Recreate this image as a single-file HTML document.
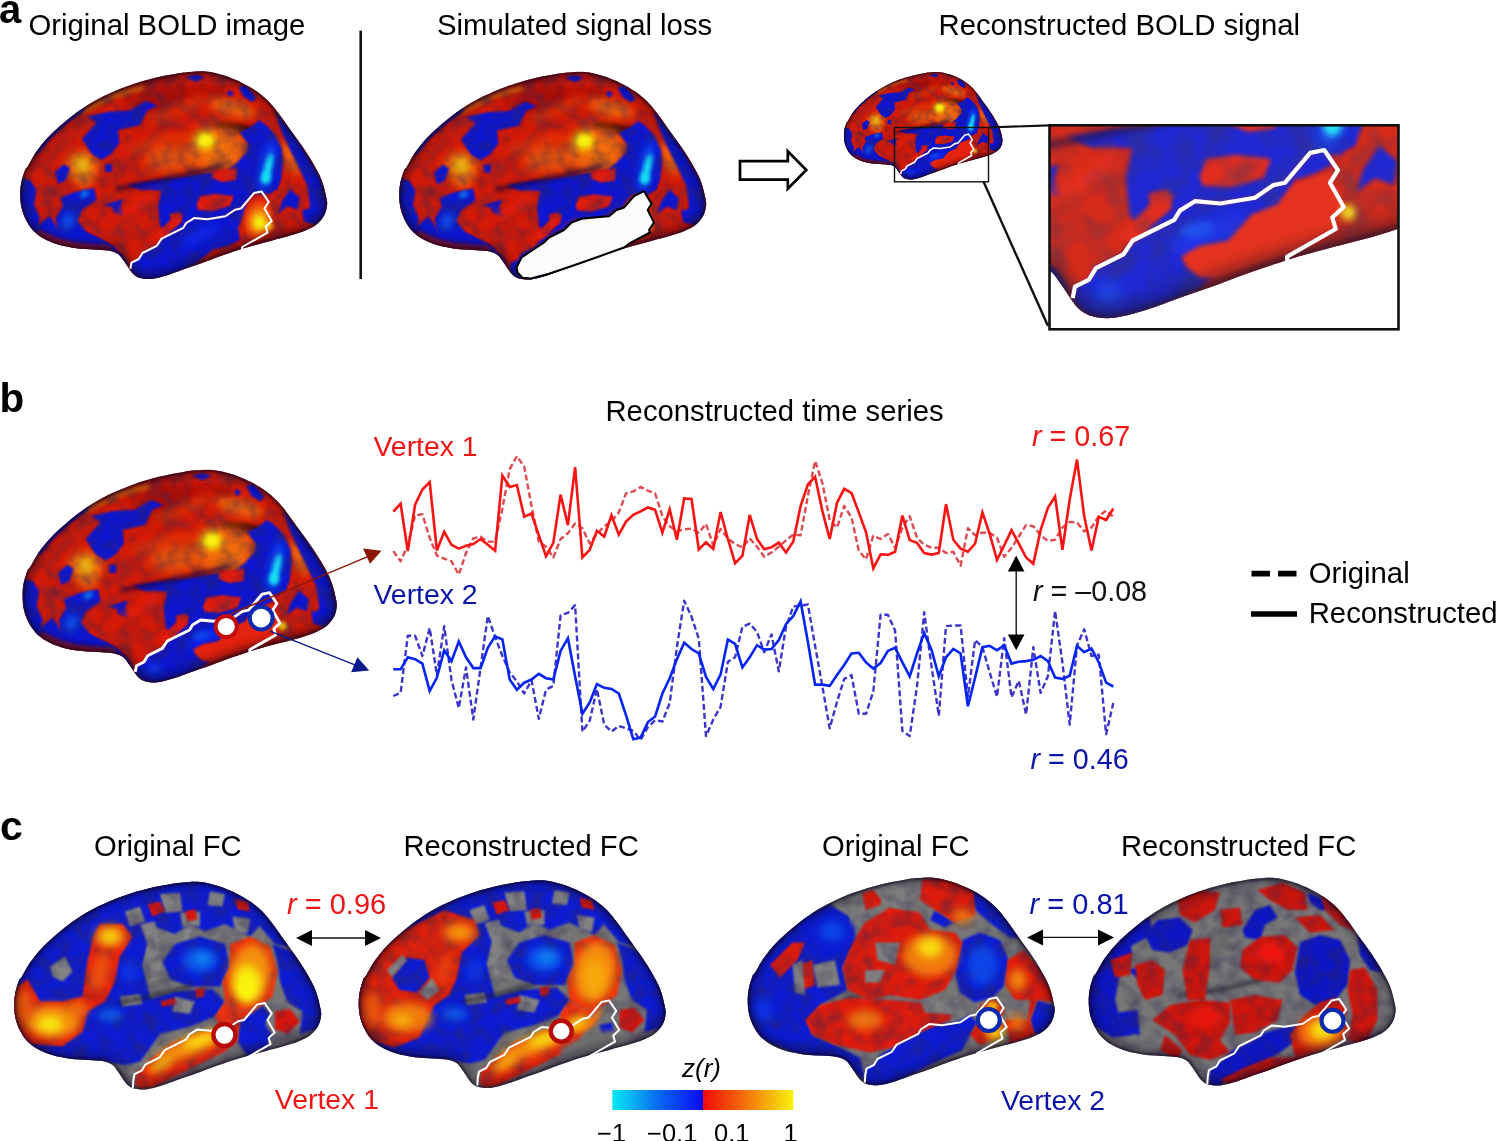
<!DOCTYPE html>
<html><head><meta charset="utf-8"><title>Figure</title>
<style>html,body{margin:0;padding:0;background:#fff}svg{display:block}text{font-family:"Liberation Sans",Arial,Helvetica,sans-serif}</style></head><body>
<svg width="1496" height="1141" viewBox="0 0 1496 1141">
<defs>
<clipPath id="bc"><path d="M20.2,194.0C20.2,189.8 20.6,186.0 21.4,182.0C22.2,178.0 23.9,172.7 25.0,170.0C26.1,167.3 26.1,169.0 28.0,165.9C29.9,162.8 33.1,156.3 36.5,151.5C39.9,146.7 43.9,141.8 48.5,137.0C53.1,132.2 58.6,127.3 64.2,122.6C69.8,117.9 75.6,113.1 82.2,108.7C88.8,104.3 96.3,99.9 103.9,96.1C111.5,92.3 119.5,88.9 127.9,85.9C136.3,82.9 146.0,80.1 154.4,78.0C162.8,75.9 172.6,74.2 178.5,73.2C184.4,72.2 185.4,72.2 190.0,71.9C194.6,71.6 200.4,71.0 206.1,71.6C211.8,72.2 218.2,73.7 224.2,75.6C230.2,77.5 236.8,80.3 242.2,82.9C247.6,85.5 252.2,88.2 256.6,91.3C261.0,94.4 265.1,97.9 268.7,101.5C272.3,105.1 274.7,108.3 278.3,113.0C281.9,117.7 286.3,124.2 290.3,129.8C294.3,135.4 298.6,141.0 302.4,146.6C306.2,152.2 310.0,157.9 313.2,163.5C316.4,169.1 319.4,174.3 321.6,180.0C323.8,185.7 325.5,193.3 326.4,197.7C327.3,202.0 327.4,203.1 327.0,206.1C326.6,209.1 325.7,212.7 324.0,215.7C322.3,218.7 319.8,221.8 316.8,224.2C313.8,226.6 310.4,228.3 306.0,230.2C301.6,232.1 295.9,233.9 290.3,235.6C284.7,237.3 278.3,238.8 272.3,240.4C266.3,242.0 259.2,243.8 254.2,245.2C249.2,246.6 247.2,247.2 242.2,248.8C237.2,250.4 230.2,252.7 224.2,254.8C218.2,256.9 212.1,259.3 206.1,261.5C200.1,263.7 194.3,265.6 188.0,267.8C181.7,270.1 174.0,273.1 168.0,275.0C162.0,276.9 156.5,278.3 152.0,278.9C147.5,279.4 144.2,279.0 141.2,278.3C138.2,277.6 136.0,276.3 134.0,274.7C132.0,273.1 130.7,270.9 129.1,268.7C127.5,266.5 126.1,263.9 124.3,261.5C122.5,259.1 120.9,256.0 118.3,254.2C115.7,252.4 112.7,251.4 108.7,250.6C104.7,249.8 99.6,249.8 94.2,249.4C88.8,249.0 82.2,249.0 76.2,248.2C70.2,247.4 63.5,246.2 58.1,244.6C52.7,243.0 47.9,241.0 43.7,238.6C39.5,236.2 35.9,233.4 32.9,230.2C29.9,227.0 27.5,223.1 25.6,219.3C23.7,215.5 22.3,211.5 21.4,207.3C20.5,203.1 20.2,198.2 20.2,194.0Z"/></clipPath>
<path id="bo" d="M20.2,194.0C20.2,189.8 20.6,186.0 21.4,182.0C22.2,178.0 23.9,172.7 25.0,170.0C26.1,167.3 26.1,169.0 28.0,165.9C29.9,162.8 33.1,156.3 36.5,151.5C39.9,146.7 43.9,141.8 48.5,137.0C53.1,132.2 58.6,127.3 64.2,122.6C69.8,117.9 75.6,113.1 82.2,108.7C88.8,104.3 96.3,99.9 103.9,96.1C111.5,92.3 119.5,88.9 127.9,85.9C136.3,82.9 146.0,80.1 154.4,78.0C162.8,75.9 172.6,74.2 178.5,73.2C184.4,72.2 185.4,72.2 190.0,71.9C194.6,71.6 200.4,71.0 206.1,71.6C211.8,72.2 218.2,73.7 224.2,75.6C230.2,77.5 236.8,80.3 242.2,82.9C247.6,85.5 252.2,88.2 256.6,91.3C261.0,94.4 265.1,97.9 268.7,101.5C272.3,105.1 274.7,108.3 278.3,113.0C281.9,117.7 286.3,124.2 290.3,129.8C294.3,135.4 298.6,141.0 302.4,146.6C306.2,152.2 310.0,157.9 313.2,163.5C316.4,169.1 319.4,174.3 321.6,180.0C323.8,185.7 325.5,193.3 326.4,197.7C327.3,202.0 327.4,203.1 327.0,206.1C326.6,209.1 325.7,212.7 324.0,215.7C322.3,218.7 319.8,221.8 316.8,224.2C313.8,226.6 310.4,228.3 306.0,230.2C301.6,232.1 295.9,233.9 290.3,235.6C284.7,237.3 278.3,238.8 272.3,240.4C266.3,242.0 259.2,243.8 254.2,245.2C249.2,246.6 247.2,247.2 242.2,248.8C237.2,250.4 230.2,252.7 224.2,254.8C218.2,256.9 212.1,259.3 206.1,261.5C200.1,263.7 194.3,265.6 188.0,267.8C181.7,270.1 174.0,273.1 168.0,275.0C162.0,276.9 156.5,278.3 152.0,278.9C147.5,279.4 144.2,279.0 141.2,278.3C138.2,277.6 136.0,276.3 134.0,274.7C132.0,273.1 130.7,270.9 129.1,268.7C127.5,266.5 126.1,263.9 124.3,261.5C122.5,259.1 120.9,256.0 118.3,254.2C115.7,252.4 112.7,251.4 108.7,250.6C104.7,249.8 99.6,249.8 94.2,249.4C88.8,249.0 82.2,249.0 76.2,248.2C70.2,247.4 63.5,246.2 58.1,244.6C52.7,243.0 47.9,241.0 43.7,238.6C39.5,236.2 35.9,233.4 32.9,230.2C29.9,227.0 27.5,223.1 25.6,219.3C23.7,215.5 22.3,211.5 21.4,207.3C20.5,203.1 20.2,198.2 20.2,194.0Z"/>
<filter id="b1" x="-20%" y="-20%" width="140%" height="140%"><feGaussianBlur stdDeviation="1"/></filter>
<filter id="b2" x="-30%" y="-30%" width="160%" height="160%"><feGaussianBlur stdDeviation="2"/></filter>
<filter id="b4" x="-50%" y="-50%" width="200%" height="200%"><feGaussianBlur stdDeviation="4"/></filter>
<filter id="b7" x="-50%" y="-50%" width="200%" height="200%"><feGaussianBlur stdDeviation="7"/></filter>
<linearGradient id="cbL" x1="0" x2="1" y1="0" y2="0"><stop offset="0" stop-color="#08eaf2"/><stop offset="0.5" stop-color="#0a6cf2"/><stop offset="1" stop-color="#0a0af2"/></linearGradient>
<linearGradient id="cbR" x1="0" x2="1" y1="0" y2="0"><stop offset="0" stop-color="#f20a0a"/><stop offset="0.5" stop-color="#f4780a"/><stop offset="1" stop-color="#f8f20a"/></linearGradient>
<clipPath id="insc"><rect x="1049.5" y="125.3" width="349" height="204"/></clipPath>
<filter id="nz" x="0" y="0" width="100%" height="100%"><feTurbulence type="fractalNoise" baseFrequency="0.07" numOctaves="2" seed="7" result="t"/><feColorMatrix in="t" type="matrix" values="0 0 0 0 0.03  0 0 0 0 0.02  0 0 0 0 0.08  2.2 0 0 0 -0.85"/></filter>
<filter id="nz2" x="0" y="0" width="100%" height="100%"><feTurbulence type="fractalNoise" baseFrequency="0.09" numOctaves="2" seed="21" result="t"/><feColorMatrix in="t" type="matrix" values="0 0 0 0 1  0 0 0 0 0.55  0 0 0 0 0.05  0 2.4 0 0 -1.0"/></filter>

<g id="boldpat"><rect x="0" y="50" width="350" height="250" fill="#d21a08"/>
<ellipse cx="155" cy="100" rx="28" ry="16" fill="#9c0e08" transform="rotate(-20 155 100)" filter="url(#b7)" opacity="0.8"/>
<ellipse cx="235" cy="128" rx="22" ry="5" fill="#3a0505" transform="rotate(8 235 128)" filter="url(#b2)" opacity="0.9"/>
<path d="M82.0,111.0L112.0,96.0L142.0,87.5" fill="none" stroke="#d8780a" stroke-width="5" stroke-linecap="round" stroke-linejoin="round" filter="url(#b2)" opacity="0.8"/>
<ellipse cx="232" cy="108" rx="24" ry="8" fill="#f2700a" transform="rotate(15 232 108)" filter="url(#b4)" opacity="0.85"/>
<ellipse cx="218" cy="150" rx="30" ry="24" fill="#f2700a" filter="url(#b7)" opacity="0.95"/>
<ellipse cx="170" cy="158" rx="26" ry="14" fill="#f2700a" filter="url(#b7)" opacity="0.7"/>
<ellipse cx="82" cy="166" rx="17" ry="15" fill="#f2700a" filter="url(#b4)" opacity="0.95"/>
<ellipse cx="84" cy="178" rx="10" ry="10" fill="#f2700a" filter="url(#b4)" opacity="0.8"/>
<ellipse cx="291" cy="158" rx="7" ry="18" fill="#f2700a" transform="rotate(-25 291 158)" filter="url(#b4)" opacity="0.9"/>
<ellipse cx="205" cy="140.5" rx="9" ry="7.5" fill="#f6ee0a" filter="url(#b4)" opacity="1"/>
<ellipse cx="205" cy="140.5" rx="5" ry="4" fill="#f6ee0a" filter="url(#b2)" opacity="1"/>
<ellipse cx="82" cy="165" rx="6" ry="7" fill="#f4c40a" filter="url(#b4)" opacity="1"/>
<path d="M82.0,139.0L96.6,122.6L87.0,116.6L108.7,111.7L130.0,110.5L146.0,101.0L158.0,105.7L147.0,110.5L140.0,125.0L118.0,130.0L119.5,143.0L111.0,154.0L101.5,160.0L91.8,154.0Z" fill="#0a14d0" filter="url(#b1)"/>
<path d="M105.0,164.0L112.0,164.0L112.0,172.0L105.0,172.0Z" fill="#0a14d0" filter="url(#b1)"/>
<path d="M55.0,172.0L64.0,164.0L70.0,168.0L66.0,180.0L58.0,184.0Z" fill="#0a14d0" filter="url(#b1)"/>
<path d="M185.6,77.0L196.0,74.4L205.0,77.0L196.0,81.7Z" fill="#0a14d0" filter="url(#b1)"/>
<path d="M226.6,93.0L230.0,90.0L233.8,94.0L230.0,97.3Z" fill="#0a14d0" filter="url(#b1)"/>
<path d="M238.6,87.0L246.0,85.3L256.6,98.0L252.0,102.0L244.0,97.0Z" fill="#0a14d0" filter="url(#b1)"/>
<path d="M239.8,132.2L251.8,126.2L259.0,120.2L266.3,125.0L274.7,134.6L281.9,149.0L283.1,162.3L281.0,180.0L277.0,190.0L262.0,192.0L250.0,194.0L232.0,186.0L227.8,180.0L230.2,168.3L237.4,162.3L247.0,151.5L248.2,144.2Z" fill="#0a14d0" filter="url(#b1)"/>
<path d="M274.7,111.0L290.3,130.0L302.4,147.0L320.4,178.0L327.0,200.0L326.0,215.0L316.0,225.0L306.0,222.0L310.0,205.0L307.2,185.0L297.6,165.0L290.3,150.3L281.9,132.2Z" fill="#0a14d0" filter="url(#b1)"/>
<path d="M290.3,189.0L300.0,197.7L297.6,209.7L288.0,206.1L278.3,213.3L281.9,201.3Z" fill="#0a14d0" filter="url(#b1)"/>
<path d="M302.0,210.0L314.0,208.0L316.0,220.0L304.0,222.0Z" fill="#0a14d0" filter="url(#b1)"/>
<path d="M128.0,185.0L150.0,181.0L175.0,178.0L200.0,174.0L228.0,170.0L250.0,172.0L278.0,186.0L270.0,194.0L254.0,193.0L241.0,208.0L235.0,210.0L225.0,216.0L207.0,219.0L194.0,218.0L186.0,223.0L183.0,228.0L170.0,234.0L160.0,226.0L158.0,206.0L161.6,190.5L140.0,190.0Z" fill="#0a14d0" filter="url(#b1)"/>
<path d="M130.0,269.0L131.5,262.7L138.8,259.0L142.4,253.0L156.8,245.8L161.6,238.6L183.3,227.8L186.2,223.0L194.1,218.1L207.3,219.3L225.4,216.3L235.0,209.7L241.0,208.5L247.0,201.0L244.0,215.0L238.0,228.0L240.0,240.0L228.0,246.0L212.0,250.0L200.0,262.0L188.0,268.0L168.0,276.0L152.0,280.0L141.0,279.0L134.0,275.0Z" fill="#0a14d0" filter="url(#b1)"/>
<path d="M75.0,191.7L94.2,188.0L96.6,200.0L82.2,209.7L77.4,220.5L87.0,232.6L106.3,242.2L118.3,249.4L94.2,248.2L70.2,242.2L58.1,232.6L55.7,218.1L63.0,206.1L60.5,197.7Z" fill="#0a14d0" filter="url(#b1)"/>
<path d="M20.0,178.0L30.0,180.0L36.5,190.0L34.0,205.0L40.0,218.0L36.5,232.6L28.0,226.0L21.0,208.0L19.0,194.0Z" fill="#0a14d0" filter="url(#b1)"/>
<path d="M31.7,230.2L49.7,215.7L60.5,232.6L87.0,232.6L106.3,242.2L121.9,254.2L129.1,266.3L123.1,261.5L115.9,253.0L106.3,250.0L82.2,248.8L58.1,244.6L43.7,238.6Z" fill="#0a14d0" filter="url(#b1)"/>
<path d="M103.9,204.9L123.1,198.9L120.7,206.1L123.1,215.7L113.5,212.1L112.3,207.3Z" fill="#0a14d0" filter="url(#b1)"/>
<path d="M36.5,151.5L48.5,137.0L64.2,122.6L82.2,108.7" fill="none" stroke="#0a14d0" stroke-width="5" stroke-linecap="round" stroke-linejoin="round" filter="url(#b1)"/>
<path d="M212.0,170.0L237.0,168.0L236.0,180.0L222.0,182.0L212.0,178.0Z" fill="#e01a08" filter="url(#b1)"/>
<path d="M196.5,205.0L200.0,196.0L215.0,194.0L233.8,196.0L230.0,206.0L212.0,211.0L198.0,210.0Z" fill="#e01a08" filter="url(#b1)"/>
<path d="M170.0,214.0L180.0,212.0L182.0,222.0L172.0,228.0Z" fill="#e01a08" filter="url(#b1)"/>
<path d="M153.2,237.4L164.0,226.6L176.0,214.5L183.3,214.5L178.5,224.2L170.0,232.6L161.6,239.8Z" fill="#e01a08" filter="url(#b1)"/>
<rect x="0" y="50" width="350" height="250" filter="url(#nz)" opacity="0.45"/>
<ellipse cx="205" cy="140.5" rx="8" ry="6.5" fill="#f6ee0a" filter="url(#b4)" opacity="0.95"/>
<ellipse cx="205" cy="140.5" rx="4.5" ry="3.5" fill="#f6ee0a" filter="url(#b2)" opacity="1"/>
<ellipse cx="82" cy="165" rx="5" ry="6" fill="#f4c40a" filter="url(#b4)" opacity="0.9"/>
<ellipse cx="267" cy="166" rx="5.5" ry="26" fill="#0a4cf0" transform="rotate(12 267 166)" filter="url(#b4)" opacity="1"/>
<ellipse cx="268" cy="168" rx="3.5" ry="15" fill="#12e4f2" transform="rotate(14 268 168)" filter="url(#b2)" opacity="1"/>
<ellipse cx="266" cy="178" rx="5" ry="6" fill="#12e4f2" filter="url(#b2)" opacity="0.9"/>
<ellipse cx="84.5" cy="194" rx="5" ry="3" fill="#0a8cf0" transform="rotate(-30 84.5 194)" filter="url(#b2)" opacity="0.9"/>
<ellipse cx="68" cy="221" rx="5" ry="8" fill="#0a6cf0" transform="rotate(20 68 221)" filter="url(#b4)" opacity="0.9"/>
<ellipse cx="200" cy="235" rx="22" ry="6" fill="#0a2cf4" transform="rotate(-25 200 235)" filter="url(#b4)" opacity="0.8"/>
<ellipse cx="257" cy="218" rx="13" ry="20" fill="#e8200a" transform="rotate(15 257 218)" filter="url(#b2)" opacity="1"/>
<ellipse cx="258" cy="219" rx="10" ry="16" fill="#f2700a" transform="rotate(15 258 219)" filter="url(#b4)" opacity="1"/>
<ellipse cx="259" cy="222" rx="7" ry="9" fill="#f6ee0a" filter="url(#b4)" opacity="1"/>
<ellipse cx="259.5" cy="223" rx="4" ry="5" fill="#f6ee0a" filter="url(#b2)" opacity="1"/>
<ellipse cx="268" cy="226" rx="5" ry="4" fill="#f6ee0a" filter="url(#b2)" opacity="0.8"/>
<path d="M40.0,234.0L58.0,242.0L76.0,246.5L95.0,248.0L108.0,249.0" fill="none" stroke="#a8140a" stroke-width="6" stroke-linecap="round" stroke-linejoin="round" filter="url(#b2)" opacity="0.95"/>
<path d="M200.0,262.0L225.0,253.0L245.0,246.0L272.0,239.0L295.0,233.0" fill="none" stroke="#a8140a" stroke-width="4" stroke-linecap="round" stroke-linejoin="round" filter="url(#b2)" opacity="0.9"/>
<path d="M150.0,120.0L175.0,112.0L200.0,100.0" fill="none" stroke="#f0500a" stroke-width="5" stroke-linecap="round" stroke-linejoin="round" filter="url(#b4)" opacity="0.7"/>
<path d="M130.0,150.0L160.0,140.0L185.0,135.0" fill="none" stroke="#f0400a" stroke-width="6" stroke-linecap="round" stroke-linejoin="round" filter="url(#b4)" opacity="0.7"/>
<path d="M170.0,95.0L200.0,88.0L225.0,92.0" fill="none" stroke="#8a0c06" stroke-width="5" stroke-linecap="round" stroke-linejoin="round" filter="url(#b4)" opacity="0.7"/>
<path d="M120.0,215.0L140.0,205.0L150.0,195.0" fill="none" stroke="#f42008" stroke-width="7" stroke-linecap="round" stroke-linejoin="round" filter="url(#b4)" opacity="0.8"/>
<path d="M118.0,189.0L150.0,182.0L185.0,175.0L222.0,166.0" fill="none" stroke="#14063c" stroke-width="3.5" stroke-linecap="round" stroke-linejoin="round" filter="url(#b2)" opacity="0.85"/></g>
<g id="boldpat2"><rect x="0" y="50" width="350" height="250" fill="#d21a08"/>
<ellipse cx="155" cy="100" rx="28" ry="16" fill="#9c0e08" transform="rotate(-20 155 100)" filter="url(#b7)" opacity="0.8"/>
<ellipse cx="235" cy="128" rx="22" ry="5" fill="#3a0505" transform="rotate(8 235 128)" filter="url(#b2)" opacity="0.9"/>
<path d="M82.0,111.0L112.0,96.0L142.0,87.5" fill="none" stroke="#d8780a" stroke-width="5" stroke-linecap="round" stroke-linejoin="round" filter="url(#b2)" opacity="0.8"/>
<ellipse cx="232" cy="108" rx="24" ry="8" fill="#f2700a" transform="rotate(15 232 108)" filter="url(#b4)" opacity="0.85"/>
<ellipse cx="218" cy="150" rx="30" ry="24" fill="#f2700a" filter="url(#b7)" opacity="0.95"/>
<ellipse cx="170" cy="158" rx="26" ry="14" fill="#f2700a" filter="url(#b7)" opacity="0.7"/>
<ellipse cx="82" cy="166" rx="17" ry="15" fill="#f2700a" filter="url(#b4)" opacity="0.95"/>
<ellipse cx="84" cy="178" rx="10" ry="10" fill="#f2700a" filter="url(#b4)" opacity="0.8"/>
<ellipse cx="291" cy="158" rx="7" ry="18" fill="#f2700a" transform="rotate(-25 291 158)" filter="url(#b4)" opacity="0.9"/>
<ellipse cx="205" cy="140.5" rx="9" ry="7.5" fill="#f6ee0a" filter="url(#b4)" opacity="1"/>
<ellipse cx="205" cy="140.5" rx="5" ry="4" fill="#f6ee0a" filter="url(#b2)" opacity="1"/>
<ellipse cx="82" cy="165" rx="6" ry="7" fill="#f4c40a" filter="url(#b4)" opacity="1"/>
<path d="M82.0,139.0L96.6,122.6L87.0,116.6L108.7,111.7L130.0,110.5L146.0,101.0L158.0,105.7L147.0,110.5L140.0,125.0L118.0,130.0L119.5,143.0L111.0,154.0L101.5,160.0L91.8,154.0Z" fill="#0a14d0" filter="url(#b1)"/>
<path d="M105.0,164.0L112.0,164.0L112.0,172.0L105.0,172.0Z" fill="#0a14d0" filter="url(#b1)"/>
<path d="M55.0,172.0L64.0,164.0L70.0,168.0L66.0,180.0L58.0,184.0Z" fill="#0a14d0" filter="url(#b1)"/>
<path d="M185.6,77.0L196.0,74.4L205.0,77.0L196.0,81.7Z" fill="#0a14d0" filter="url(#b1)"/>
<path d="M226.6,93.0L230.0,90.0L233.8,94.0L230.0,97.3Z" fill="#0a14d0" filter="url(#b1)"/>
<path d="M238.6,87.0L246.0,85.3L256.6,98.0L252.0,102.0L244.0,97.0Z" fill="#0a14d0" filter="url(#b1)"/>
<path d="M239.8,132.2L251.8,126.2L259.0,120.2L266.3,125.0L274.7,134.6L281.9,149.0L283.1,162.3L281.0,180.0L277.0,190.0L262.0,192.0L250.0,194.0L232.0,186.0L227.8,180.0L230.2,168.3L237.4,162.3L247.0,151.5L248.2,144.2Z" fill="#0a14d0" filter="url(#b1)"/>
<path d="M274.7,111.0L290.3,130.0L302.4,147.0L320.4,178.0L327.0,200.0L326.0,215.0L316.0,225.0L306.0,222.0L310.0,205.0L307.2,185.0L297.6,165.0L290.3,150.3L281.9,132.2Z" fill="#0a14d0" filter="url(#b1)"/>
<path d="M290.3,189.0L300.0,197.7L297.6,209.7L288.0,206.1L278.3,213.3L281.9,201.3Z" fill="#0a14d0" filter="url(#b1)"/>
<path d="M302.0,210.0L314.0,208.0L316.0,220.0L304.0,222.0Z" fill="#0a14d0" filter="url(#b1)"/>
<path d="M128.0,185.0L150.0,181.0L175.0,178.0L200.0,174.0L228.0,170.0L250.0,172.0L278.0,186.0L270.0,194.0L254.0,193.0L241.0,208.0L235.0,210.0L225.0,216.0L207.0,219.0L194.0,218.0L186.0,223.0L183.0,228.0L170.0,234.0L160.0,226.0L158.0,206.0L161.6,190.5L140.0,190.0Z" fill="#0a14d0" filter="url(#b1)"/>
<path d="M130.0,269.0L131.5,262.7L138.8,259.0L142.4,253.0L156.8,245.8L161.6,238.6L183.3,227.8L186.2,223.0L194.1,218.1L207.3,219.3L225.4,216.3L235.0,209.7L241.0,208.5L247.0,201.0L244.0,215.0L238.0,228.0L240.0,240.0L228.0,246.0L212.0,250.0L200.0,262.0L188.0,268.0L168.0,276.0L152.0,280.0L141.0,279.0L134.0,275.0Z" fill="#0a14d0" filter="url(#b1)"/>
<path d="M75.0,191.7L94.2,188.0L96.6,200.0L82.2,209.7L77.4,220.5L87.0,232.6L106.3,242.2L118.3,249.4L94.2,248.2L70.2,242.2L58.1,232.6L55.7,218.1L63.0,206.1L60.5,197.7Z" fill="#0a14d0" filter="url(#b1)"/>
<path d="M20.0,178.0L30.0,180.0L36.5,190.0L34.0,205.0L40.0,218.0L36.5,232.6L28.0,226.0L21.0,208.0L19.0,194.0Z" fill="#0a14d0" filter="url(#b1)"/>
<path d="M31.7,230.2L49.7,215.7L60.5,232.6L87.0,232.6L106.3,242.2L121.9,254.2L129.1,266.3L123.1,261.5L115.9,253.0L106.3,250.0L82.2,248.8L58.1,244.6L43.7,238.6Z" fill="#0a14d0" filter="url(#b1)"/>
<path d="M103.9,204.9L123.1,198.9L120.7,206.1L123.1,215.7L113.5,212.1L112.3,207.3Z" fill="#0a14d0" filter="url(#b1)"/>
<path d="M36.5,151.5L48.5,137.0L64.2,122.6L82.2,108.7" fill="none" stroke="#0a14d0" stroke-width="5" stroke-linecap="round" stroke-linejoin="round" filter="url(#b1)"/>
<path d="M212.0,170.0L237.0,168.0L236.0,180.0L222.0,182.0L212.0,178.0Z" fill="#e01a08" filter="url(#b1)"/>
<path d="M196.5,205.0L200.0,196.0L215.0,194.0L233.8,196.0L230.0,206.0L212.0,211.0L198.0,210.0Z" fill="#e01a08" filter="url(#b1)"/>
<path d="M170.0,214.0L180.0,212.0L182.0,222.0L172.0,228.0Z" fill="#e01a08" filter="url(#b1)"/>
<path d="M153.2,237.4L164.0,226.6L176.0,214.5L183.3,214.5L178.5,224.2L170.0,232.6L161.6,239.8Z" fill="#e01a08" filter="url(#b1)"/>
<rect x="0" y="50" width="350" height="250" filter="url(#nz)" opacity="0.45"/>
<ellipse cx="205" cy="140.5" rx="8" ry="6.5" fill="#f6ee0a" filter="url(#b4)" opacity="0.95"/>
<ellipse cx="205" cy="140.5" rx="4.5" ry="3.5" fill="#f6ee0a" filter="url(#b2)" opacity="1"/>
<ellipse cx="82" cy="165" rx="5" ry="6" fill="#f4c40a" filter="url(#b4)" opacity="0.9"/>
<ellipse cx="267" cy="166" rx="5.5" ry="26" fill="#0a4cf0" transform="rotate(12 267 166)" filter="url(#b4)" opacity="1"/>
<ellipse cx="268" cy="168" rx="3.5" ry="15" fill="#12e4f2" transform="rotate(14 268 168)" filter="url(#b2)" opacity="1"/>
<ellipse cx="266" cy="178" rx="5" ry="6" fill="#12e4f2" filter="url(#b2)" opacity="0.9"/>
<ellipse cx="84.5" cy="194" rx="5" ry="3" fill="#0a8cf0" transform="rotate(-30 84.5 194)" filter="url(#b2)" opacity="0.9"/>
<ellipse cx="68" cy="221" rx="5" ry="8" fill="#0a6cf0" transform="rotate(20 68 221)" filter="url(#b4)" opacity="0.9"/>
<ellipse cx="200" cy="235" rx="22" ry="6" fill="#0a2cf4" transform="rotate(-25 200 235)" filter="url(#b4)" opacity="0.8"/>
<path d="M189.6,252.3L186.9,246.9L196.4,241.5L211.4,238.7L223.6,225.1L237.2,219.7L244.0,210.2L257.6,204.7L267.0,203.0L265.8,208.8L272.6,221.1L267.1,226.5L269.2,231.9L244.0,245.5L230.4,252.3L211.4,259.1L196.4,257.8Z" fill="#e4220c" filter="url(#b1)"/>
<path d="M243.0,207.0L254.2,193.5L261.5,192.0L266.0,199.0L258.0,203.0L250.0,206.0Z" fill="#0a14d0" filter="url(#b1)"/>
<ellipse cx="274" cy="224" rx="4" ry="4" fill="#f6ee0a" filter="url(#b2)" opacity="0.9"/>
<ellipse cx="195" cy="233" rx="9" ry="4" fill="#0a4cf4" transform="rotate(-10 195 233)" filter="url(#b2)" opacity="0.8"/>
<ellipse cx="149" cy="266" rx="7" ry="5" fill="#0a50f0" filter="url(#b4)" opacity="0.7"/>
<path d="M40.0,234.0L58.0,242.0L76.0,246.5L95.0,248.0L108.0,249.0" fill="none" stroke="#a8140a" stroke-width="6" stroke-linecap="round" stroke-linejoin="round" filter="url(#b2)" opacity="0.95"/>
<path d="M200.0,262.0L225.0,253.0L245.0,246.0L272.0,239.0L295.0,233.0" fill="none" stroke="#a8140a" stroke-width="4" stroke-linecap="round" stroke-linejoin="round" filter="url(#b2)" opacity="0.9"/>
<path d="M150.0,120.0L175.0,112.0L200.0,100.0" fill="none" stroke="#f0500a" stroke-width="5" stroke-linecap="round" stroke-linejoin="round" filter="url(#b4)" opacity="0.7"/>
<path d="M130.0,150.0L160.0,140.0L185.0,135.0" fill="none" stroke="#f0400a" stroke-width="6" stroke-linecap="round" stroke-linejoin="round" filter="url(#b4)" opacity="0.7"/>
<path d="M170.0,95.0L200.0,88.0L225.0,92.0" fill="none" stroke="#8a0c06" stroke-width="5" stroke-linecap="round" stroke-linejoin="round" filter="url(#b4)" opacity="0.7"/>
<path d="M120.0,215.0L140.0,205.0L150.0,195.0" fill="none" stroke="#f42008" stroke-width="7" stroke-linecap="round" stroke-linejoin="round" filter="url(#b4)" opacity="0.8"/>
<path d="M118.0,189.0L150.0,182.0L185.0,175.0L222.0,166.0" fill="none" stroke="#14063c" stroke-width="3.5" stroke-linecap="round" stroke-linejoin="round" filter="url(#b2)" opacity="0.85"/></g>
<g id="shade"><path d="M20.2,194.0C20.2,189.8 20.6,186.0 21.4,182.0C22.2,178.0 23.9,172.7 25.0,170.0C26.1,167.3 26.1,169.0 28.0,165.9C29.9,162.8 33.1,156.3 36.5,151.5C39.9,146.7 43.9,141.8 48.5,137.0C53.1,132.2 58.6,127.3 64.2,122.6C69.8,117.9 75.6,113.1 82.2,108.7C88.8,104.3 96.3,99.9 103.9,96.1C111.5,92.3 119.5,88.9 127.9,85.9C136.3,82.9 146.0,80.1 154.4,78.0C162.8,75.9 172.6,74.2 178.5,73.2C184.4,72.2 185.4,72.2 190.0,71.9C194.6,71.6 200.4,71.0 206.1,71.6C211.8,72.2 218.2,73.7 224.2,75.6C230.2,77.5 236.8,80.3 242.2,82.9C247.6,85.5 252.2,88.2 256.6,91.3C261.0,94.4 265.1,97.9 268.7,101.5C272.3,105.1 274.7,108.3 278.3,113.0C281.9,117.7 286.3,124.2 290.3,129.8C294.3,135.4 298.6,141.0 302.4,146.6C306.2,152.2 310.0,157.9 313.2,163.5C316.4,169.1 319.4,174.3 321.6,180.0C323.8,185.7 325.5,193.3 326.4,197.7C327.3,202.0 327.4,203.1 327.0,206.1C326.6,209.1 325.7,212.7 324.0,215.7C322.3,218.7 319.8,221.8 316.8,224.2C313.8,226.6 310.4,228.3 306.0,230.2C301.6,232.1 295.9,233.9 290.3,235.6C284.7,237.3 278.3,238.8 272.3,240.4C266.3,242.0 259.2,243.8 254.2,245.2C249.2,246.6 247.2,247.2 242.2,248.8C237.2,250.4 230.2,252.7 224.2,254.8C218.2,256.9 212.1,259.3 206.1,261.5C200.1,263.7 194.3,265.6 188.0,267.8C181.7,270.1 174.0,273.1 168.0,275.0C162.0,276.9 156.5,278.3 152.0,278.9C147.5,279.4 144.2,279.0 141.2,278.3C138.2,277.6 136.0,276.3 134.0,274.7C132.0,273.1 130.7,270.9 129.1,268.7C127.5,266.5 126.1,263.9 124.3,261.5C122.5,259.1 120.9,256.0 118.3,254.2C115.7,252.4 112.7,251.4 108.7,250.6C104.7,249.8 99.6,249.8 94.2,249.4C88.8,249.0 82.2,249.0 76.2,248.2C70.2,247.4 63.5,246.2 58.1,244.6C52.7,243.0 47.9,241.0 43.7,238.6C39.5,236.2 35.9,233.4 32.9,230.2C29.9,227.0 27.5,223.1 25.6,219.3C23.7,215.5 22.3,211.5 21.4,207.3C20.5,203.1 20.2,198.2 20.2,194.0Z" fill="none" stroke="#08061a" stroke-width="4" filter="url(#b1)" opacity="0.55"/>
<path d="M20.2,194.0C20.2,189.8 20.6,186.0 21.4,182.0C22.2,178.0 23.9,172.7 25.0,170.0C26.1,167.3 26.1,169.0 28.0,165.9C29.9,162.8 33.1,156.3 36.5,151.5C39.9,146.7 43.9,141.8 48.5,137.0C53.1,132.2 58.6,127.3 64.2,122.6C69.8,117.9 75.6,113.1 82.2,108.7C88.8,104.3 96.3,99.9 103.9,96.1C111.5,92.3 119.5,88.9 127.9,85.9C136.3,82.9 146.0,80.1 154.4,78.0C162.8,75.9 172.6,74.2 178.5,73.2C184.4,72.2 185.4,72.2 190.0,71.9C194.6,71.6 200.4,71.0 206.1,71.6C211.8,72.2 218.2,73.7 224.2,75.6C230.2,77.5 236.8,80.3 242.2,82.9C247.6,85.5 252.2,88.2 256.6,91.3C261.0,94.4 265.1,97.9 268.7,101.5C272.3,105.1 274.7,108.3 278.3,113.0C281.9,117.7 286.3,124.2 290.3,129.8C294.3,135.4 298.6,141.0 302.4,146.6C306.2,152.2 310.0,157.9 313.2,163.5C316.4,169.1 319.4,174.3 321.6,180.0C323.8,185.7 325.5,193.3 326.4,197.7C327.3,202.0 327.4,203.1 327.0,206.1C326.6,209.1 325.7,212.7 324.0,215.7C322.3,218.7 319.8,221.8 316.8,224.2C313.8,226.6 310.4,228.3 306.0,230.2C301.6,232.1 295.9,233.9 290.3,235.6C284.7,237.3 278.3,238.8 272.3,240.4C266.3,242.0 259.2,243.8 254.2,245.2C249.2,246.6 247.2,247.2 242.2,248.8C237.2,250.4 230.2,252.7 224.2,254.8C218.2,256.9 212.1,259.3 206.1,261.5C200.1,263.7 194.3,265.6 188.0,267.8C181.7,270.1 174.0,273.1 168.0,275.0C162.0,276.9 156.5,278.3 152.0,278.9C147.5,279.4 144.2,279.0 141.2,278.3C138.2,277.6 136.0,276.3 134.0,274.7C132.0,273.1 130.7,270.9 129.1,268.7C127.5,266.5 126.1,263.9 124.3,261.5C122.5,259.1 120.9,256.0 118.3,254.2C115.7,252.4 112.7,251.4 108.7,250.6C104.7,249.8 99.6,249.8 94.2,249.4C88.8,249.0 82.2,249.0 76.2,248.2C70.2,247.4 63.5,246.2 58.1,244.6C52.7,243.0 47.9,241.0 43.7,238.6C39.5,236.2 35.9,233.4 32.9,230.2C29.9,227.0 27.5,223.1 25.6,219.3C23.7,215.5 22.3,211.5 21.4,207.3C20.5,203.1 20.2,198.2 20.2,194.0Z" fill="none" stroke="#08061a" stroke-width="10" filter="url(#b4)" opacity="0.4" transform="translate(0,-1.5)"/></g>
<clipPath id="bcc1"><use href="#bo" transform="translate(-6,810.5)"/></clipPath>
<clipPath id="bcc2"><use href="#bo" transform="translate(338.5,809)"/></clipPath>
<clipPath id="bcc3"><use href="#bo" transform="translate(727.5,806.2)"/></clipPath>
<clipPath id="bcc4"><use href="#bo" transform="translate(1068.5,806.5)"/></clipPath>
</defs>
<rect width="1496" height="1141" fill="#fff"/>
<!-- panel a -->
<text x="-1" y="22.5" font-size="40" font-weight="bold">a</text>
<text x="28.5" y="34.5" font-size="29.3">Original BOLD image</text>
<text x="437" y="34.5" font-size="29.3">Simulated signal loss</text>
<text x="938.5" y="35" font-size="29.3">Reconstructed BOLD signal</text>
<line x1="360.7" y1="30.6" x2="360.7" y2="279" stroke="#111" stroke-width="2.6"/>
<g id="brain1"><g clip-path="url(#bc)"><use href="#boldpat"/><use href="#shade"/></g>
<path d="M130.3,268.7L131.5,262.7L138.8,259.0L142.4,253.0L156.8,245.8L161.6,238.6L183.3,227.8L186.2,223.0L194.1,218.1L207.3,219.3L225.4,216.3L235.0,209.7L241.0,208.5L254.2,192.9L261.5,191.4L268.7,201.9L264.5,208.5L271.7,221.1L265.7,226.6L267.5,232.6L242.2,247.0L242.2,249.5" fill="none" stroke="#fff" stroke-width="2" stroke-linejoin="round"/></g>
<g id="brain2" transform="translate(379,0.5)"><g clip-path="url(#bc)"><use href="#boldpat"/><use href="#shade"/></g>
<path d="M137.5,267.0L142.5,257.0L150.0,252.0L165.0,242.0L170.0,237.0L185.0,229.5L192.5,222.0L202.5,218.2L215.0,217.0L230.0,215.7L237.5,209.5L245.0,207.0L255.0,195.7L265.0,190.7L272.5,203.2L268.7,209.5L275.0,222.0L270.0,229.5L271.0,232.0L250.0,243.2L245.0,247.0L220.0,256.0L195.0,264.7L170.0,273.2L152.0,278.0L143.5,277.2L138.5,272.0Z" fill="#fbfbfb" stroke="#000" stroke-width="2" stroke-linejoin="round"/></g>
<path d="M740,161.2H787.8V151.2L806.3,170L787.8,188.8V179.6H740Z" fill="#fff" stroke="#000" stroke-width="2.7" stroke-linejoin="miter"/>
<g id="brain3" transform="translate(833.4,35.2) scale(0.517)"><g clip-path="url(#bc)"><use href="#boldpat2"/><use href="#shade"/></g>
<path d="M130.3,268.7L131.5,262.7L138.8,259.0L142.4,253.0L156.8,245.8L161.6,238.6L183.3,227.8L186.2,223.0L194.1,218.1L207.3,219.3L225.4,216.3L235.0,209.7L241.0,208.5L254.2,192.9L261.5,191.4L268.7,201.9L264.5,208.5L271.7,221.1L265.7,226.6L267.5,232.6L242.2,247.0L242.2,249.5" fill="none" stroke="#fff" stroke-width="3" stroke-linejoin="round"/></g>
<rect x="894.5" y="127.5" width="94" height="54.3" fill="none" stroke="#111" stroke-width="1.4"/>
<line x1="988.6" y1="127.5" x2="1049.5" y2="125.3" stroke="#111" stroke-width="2.2"/>
<line x1="983.6" y1="181.8" x2="1048" y2="326" stroke="#111" stroke-width="2.4"/>
<g id="inset" clip-path="url(#insc)"><g transform="translate(822.9,-216.9) scale(1.917)"><g clip-path="url(#bc)"><use href="#boldpat2"/><use href="#shade"/></g><path d="M130.3,268.7L131.5,262.7L138.8,259.0L142.4,253.0L156.8,245.8L161.6,238.6L183.3,227.8L186.2,223.0L194.1,218.1L207.3,219.3L225.4,216.3L235.0,209.7L241.0,208.5L254.2,192.9L261.5,191.4L268.7,201.9L264.5,208.5L271.7,221.1L265.7,226.6L267.5,232.6L242.2,247.0L242.2,249.5" fill="none" stroke="#fff" stroke-width="2.2" stroke-linejoin="round"/></g><rect x="1049" y="125" width="350" height="205" fill="#fff" opacity="0.08"/></g>
<rect x="1049.5" y="125.3" width="349" height="204" fill="none" stroke="#111" stroke-width="2.6"/>

<!-- panel b -->
<text x="-0.5" y="412" font-size="40.5" font-weight="bold">b</text>
<text x="605.5" y="421" font-size="29.25">Reconstructed time series</text>
<text x="373.5" y="455.5" font-size="28.4" fill="#f01414">Vertex 1</text>
<text x="373.5" y="604" font-size="28.4" fill="#0a14a8">Vertex 2</text>
<text x="1032" y="446" font-size="28.7" fill="#f01414"><tspan font-style="italic">r</tspan> = 0.67</text>
<text x="1033" y="601" font-size="28.7" fill="#111"><tspan font-style="italic">r</tspan> = –0.08</text>
<text x="1030.5" y="769" font-size="28.7" fill="#0a14a8"><tspan font-style="italic">r</tspan> = 0.46</text>
<g id="brain4" transform="translate(1.8,396.7) scale(1.024)"><g clip-path="url(#bc)"><use href="#boldpat2"/><use href="#shade"/></g>
<path d="M130.3,268.7L131.5,262.7L138.8,259.0L142.4,253.0L156.8,245.8L161.6,238.6L183.3,227.8L186.2,223.0L194.1,218.1L207.3,219.3L225.4,216.3L235.0,209.7L241.0,208.5L254.2,192.9L261.5,191.4L268.7,201.9L264.5,208.5L271.7,221.1L265.7,226.6L267.5,232.6L242.2,247.0L242.2,249.5" fill="none" stroke="#fff" stroke-width="2.8" stroke-linejoin="round"/></g>
<polyline points="393.3,551.1 400.6,561.3 407.8,545.4 415.1,515.5 422.4,514.3 429.7,537.8 436.9,555.6 444.2,558.7 451.5,561.3 458.8,574.6 466.0,553.0 473.3,538.4 480.6,536.8 487.8,541.6 495.1,541.6 502.4,508.5 509.7,469.1 516.9,456.2 524.2,466.6 531.5,506.0 538.8,541.6 546.0,546.7 553.3,557.5 560.6,539.0 567.9,533.3 575.1,523.5 582.4,528.2 589.7,543.5 596.9,534.0 604.2,526.3 611.5,521.3 618.8,512.4 626.0,493.3 633.3,491.4 640.6,486.9 647.9,490.8 655.1,493.3 662.4,516.2 669.7,526.3 676.9,531.4 684.2,529.3 691.5,528.6 698.8,532.7 706.0,523.8 713.3,545.4 720.6,528.9 727.9,538.4 735.1,544.1 742.4,547.3 749.7,538.4 757.0,546.7 764.2,556.8 771.5,552.4 778.8,546.7 786.0,540.3 793.3,534.6 800.6,535.2 807.9,495.8 815.1,460.9 822.4,483.1 829.7,520.0 837.0,527.6 844.2,506.0 851.5,517.4 858.8,550.5 866.0,559.4 873.3,535.9 880.6,539.0 887.9,534.0 895.1,547.9 902.4,527.6 909.7,516.2 917.0,537.8 924.2,544.8 931.5,547.7 938.8,547.7 946.0,553.0 953.3,551.8 960.6,565.7 967.9,528.2 975.1,535.2 982.4,532.7 989.7,532.7 997.0,537.8 1004.2,556.8 1011.5,547.9 1018.8,536.5 1026.1,525.1 1033.3,526.3 1040.6,535.2 1047.9,541.0 1055.1,539.7 1062.4,527.6 1069.7,521.9 1077.0,522.5 1084.2,531.4 1091.5,527.6 1098.8,516.2 1106.1,510.5 1113.3,516.8" fill="none" stroke="#dc4a52" stroke-width="2.4" stroke-dasharray="6,3" stroke-linejoin="round"/>
<polyline points="393.3,511.7 400.6,503.7 407.8,551.1 415.1,504.7 422.4,489.5 429.7,482.2 436.9,550.5 444.2,531.8 451.5,544.8 458.8,548.6 466.0,545.8 473.3,544.1 480.6,539.0 487.8,544.8 495.1,550.7 502.4,475.5 509.7,486.9 516.9,485.0 524.2,516.8 531.5,513.6 538.8,535.2 546.0,556.2 553.3,542.9 560.6,494.6 567.9,525.1 575.1,467.2 582.4,557.5 589.7,549.8 596.9,530.8 604.2,536.5 611.5,515.3 618.8,534.6 626.0,521.6 633.3,514.9 640.6,511.3 647.9,507.5 655.1,509.8 662.4,532.7 669.7,509.4 676.9,539.7 684.2,498.4 691.5,499.0 698.8,549.5 706.0,542.2 713.3,549.0 720.6,512.0 727.9,539.0 735.1,563.2 742.4,555.9 749.7,514.9 757.0,539.0 764.2,549.2 771.5,547.3 778.8,542.6 786.0,552.4 793.3,541.6 800.6,506.0 807.9,484.4 815.1,476.8 822.4,511.1 829.7,539.0 837.0,502.8 844.2,488.8 851.5,493.0 858.8,512.4 866.0,532.1 873.3,568.3 880.6,554.3 887.9,554.9 895.1,551.8 902.4,515.5 909.7,540.1 917.0,542.9 924.2,553.0 931.5,554.6 938.8,553.0 946.0,504.1 953.3,539.7 960.6,548.6 967.9,551.8 975.1,543.5 982.4,512.4 989.7,534.0 997.0,560.0 1004.2,545.4 1011.5,530.2 1018.8,543.5 1026.1,557.5 1033.3,563.8 1040.6,530.2 1047.9,507.9 1055.1,496.5 1062.4,549.8 1069.7,499.6 1077.0,459.6 1084.2,516.2 1091.5,550.5 1098.8,516.8 1106.1,520.0 1113.3,508.5" fill="none" stroke="#fb1212" stroke-width="2.6" stroke-linejoin="miter"/>
<polyline points="393.3,696.0 400.6,692.9 407.8,635.7 415.1,635.7 422.4,656.0 429.7,628.0 436.9,675.1 444.2,626.1 451.5,680.2 458.8,708.1 466.0,667.4 473.3,719.5 480.6,667.4 487.8,616.0 495.1,636.9 502.4,656.0 509.7,672.5 516.9,681.4 524.2,693.5 531.5,680.2 538.8,718.9 546.0,689.7 553.3,685.9 560.6,615.3 567.9,612.8 575.1,605.2 582.4,731.6 589.7,720.8 596.9,689.0 604.2,724.6 611.5,731.6 618.8,725.9 626.0,728.4 633.3,731.0 640.6,739.9 647.9,727.2 655.1,720.2 662.4,721.5 669.7,703.0 676.9,647.1 684.2,600.7 691.5,616.6 698.8,638.8 706.0,736.1 713.3,719.5 720.6,706.8 727.9,661.7 735.1,657.3 742.4,626.8 749.7,623.6 757.0,631.9 764.2,652.2 771.5,634.4 778.8,671.3 786.0,626.8 793.3,606.4 800.6,605.8 807.9,604.5 815.1,645.8 822.4,686.5 829.7,728.4 837.0,701.8 844.2,678.9 851.5,675.1 858.8,713.8 866.0,713.8 873.3,691.6 880.6,614.7 887.9,614.7 895.1,630.6 902.4,731.0 909.7,736.1 917.0,686.5 924.2,612.2 931.5,666.2 938.8,715.7 946.0,626.1 953.3,625.5 960.6,625.5 967.9,696.7 975.1,640.1 982.4,647.1 989.7,672.5 997.0,696.7 1004.2,638.2 1011.5,697.3 1018.8,680.8 1026.1,714.5 1033.3,647.1 1040.6,692.9 1047.9,676.3 1055.1,610.9 1062.4,662.4 1069.7,724.6 1077.0,645.8 1084.2,629.3 1091.5,656.0 1098.8,654.7 1106.1,734.2 1113.3,703.0" fill="none" stroke="#3d35c9" stroke-width="2.4" stroke-dasharray="6,3" stroke-linejoin="round"/>
<polyline points="393.3,669.3 400.6,669.3 407.8,657.3 415.1,659.2 422.4,663.6 429.7,691.0 436.9,677.6 444.2,650.3 451.5,661.1 458.8,641.4 466.0,657.3 473.3,668.1 480.6,668.1 487.8,647.7 495.1,636.3 502.4,639.5 509.7,679.5 516.9,689.7 524.2,682.7 531.5,679.5 538.8,673.8 546.0,678.2 553.3,679.5 560.6,650.9 567.9,638.2 575.1,676.3 582.4,713.8 589.7,702.4 596.9,684.0 604.2,687.8 611.5,689.0 618.8,693.5 626.0,715.1 633.3,739.2 640.6,737.6 647.9,722.1 655.1,716.4 662.4,693.5 669.7,678.2 676.9,659.2 684.2,642.7 691.5,649.0 698.8,653.5 706.0,677.0 713.3,689.0 720.6,674.4 727.9,639.5 735.1,643.9 742.4,667.4 749.7,657.3 757.0,645.2 764.2,649.6 771.5,649.0 778.8,640.1 786.0,624.2 793.3,616.0 800.6,601.4 807.9,642.0 815.1,684.6 822.4,684.6 829.7,685.9 837.0,675.1 844.2,664.9 851.5,653.5 858.8,652.8 866.0,662.4 873.3,668.5 880.6,663.0 887.9,650.9 895.1,647.7 902.4,662.4 909.7,676.3 917.0,653.5 924.2,633.1 931.5,649.6 938.8,676.3 946.0,657.3 953.3,649.0 960.6,653.5 967.9,706.2 975.1,677.6 982.4,647.1 989.7,645.8 997.0,650.3 1004.2,645.2 1011.5,663.6 1018.8,661.7 1026.1,661.1 1033.3,659.8 1040.6,656.0 1047.9,661.1 1055.1,677.6 1062.4,678.9 1069.7,675.7 1077.0,645.8 1084.2,652.2 1091.5,648.4 1098.8,662.4 1106.1,682.7 1113.3,686.5" fill="none" stroke="#0624f2" stroke-width="2.6" stroke-linejoin="miter"/>
<line x1="227.3" y1="615.4" x2="372" y2="554.8" stroke="#8a1808" stroke-width="1.4"/>
<path d="M381.5,550.8L363,548.4L370,563.8Z" fill="#8a1808"/>
<line x1="269.9" y1="631.2" x2="358" y2="666.2" stroke="#0a1a8c" stroke-width="1.4"/>
<path d="M369.2,670.6L357.4,657.2L351.1,672.2Z" fill="#0a1a8c"/>
<circle cx="226.2" cy="626.5" r="10.6" fill="#fff" stroke="#c40c0c" stroke-width="4"/>
<circle cx="261.2" cy="618.1" r="11.4" fill="#fff" stroke="#0a2ab0" stroke-width="4"/>
<line x1="1016.2" y1="565" x2="1016.2" y2="640" stroke="#111" stroke-width="1.4"/>
<path d="M1016.2,555.6L1024.5,571.5H1007.9Z" fill="#000"/>
<path d="M1016.2,650.3L1024.5,634.4H1007.9Z" fill="#000"/>
<line x1="1251.5" y1="573.6" x2="1297" y2="573.6" stroke="#000" stroke-width="5.6" stroke-dasharray="18.5,8"/>
<line x1="1251" y1="614" x2="1297" y2="614" stroke="#000" stroke-width="5.6"/>
<text x="1308.7" y="582.5" font-size="29.3">Original</text>
<text x="1308.7" y="623" font-size="29.3">Reconstructed</text>

<!-- panel c -->
<text x="0" y="840" font-size="41" font-weight="bold">c</text>
<text x="94" y="855.5" font-size="29.2">Original FC</text>
<text x="403.5" y="855.5" font-size="29.2">Reconstructed FC</text>
<text x="822" y="855.5" font-size="29.2">Original FC</text>
<text x="1121" y="855.5" font-size="29.2">Reconstructed FC</text>
<text x="287" y="914" font-size="29" fill="#f01414"><tspan font-style="italic">r</tspan> = 0.96</text>
<text x="1029.5" y="914" font-size="29" fill="#0a14a8"><tspan font-style="italic">r</tspan> = 0.81</text>
<text x="274.8" y="1108.5" font-size="28.4" fill="#f01414">Vertex 1</text>
<text x="1001" y="1109.5" font-size="28.4" fill="#0a14a8">Vertex 2</text>
<line x1="306" y1="938" x2="371" y2="938" stroke="#111" stroke-width="1.4"/>
<path d="M296,938L312,930V946Z" fill="#000"/><path d="M381,938L365,930V946Z" fill="#000"/>
<line x1="1037" y1="937.4" x2="1104" y2="937.4" stroke="#111" stroke-width="1.4"/>
<path d="M1027,937.4L1043,929.4V945.4Z" fill="#000"/><path d="M1114,937.4L1098,929.4V945.4Z" fill="#000"/>
<g clip-path="url(#bcc1)"><rect x="0" y="861.5" width="374" height="240" fill="#777777"/>
<path d="M155.0,936.5L150.0,966.5L160.0,981.5" fill="none" stroke="#5a5a5a" stroke-width="5.0" stroke-linecap="round" stroke-linejoin="round" filter="url(#b2)" opacity="0.8"/>
<path d="M175.0,899.0L190.0,924.0L185.0,944.0" fill="none" stroke="#969696" stroke-width="4.0" stroke-linecap="round" stroke-linejoin="round" filter="url(#b2)" opacity="0.8"/>
<path d="M7.5,1011.5L11.2,979.0L28.8,950.2L56.2,927.8L96.2,905.2L137.5,887.8L150.0,936.5L142.5,966.5L150.0,996.5L160.0,1034.0L140.0,1061.5L125.0,1065.2L105.0,1061.5L62.5,1059.0L27.5,1049.0L11.2,1031.5Z" fill="#0a1cd2" filter="url(#b1)"/>
<path d="M117.5,911.5L137.5,887.8L175.0,879.0L217.5,877.8L255.0,892.8L270.0,914.0L250.0,936.5L225.0,924.0L205.0,931.5L190.0,924.0L175.0,934.0L155.0,926.5L140.0,936.5L120.0,931.5Z" fill="#0a1cd2" filter="url(#b1)"/>
<path d="M162.5,961.5L175.0,944.0L200.0,936.5L225.0,944.0L230.0,966.5L220.0,986.5L190.0,986.5L170.0,979.0Z" fill="#0a1cd2" filter="url(#b1)"/>
<path d="M272.5,944.0L292.5,951.5L315.0,979.0L327.5,1006.5L325.0,1026.5L300.0,1034.0L302.5,1011.5L287.5,1001.5L280.0,981.5L277.5,961.5Z" fill="#0a1cd2" filter="url(#b1)"/>
<path d="M140.0,1001.5L175.0,991.5L212.5,989.0L225.0,1001.5L215.0,1016.5L190.0,1026.5L160.0,1034.0L150.0,1021.5Z" fill="#0a1cd2" filter="url(#b1)"/>
<path d="M255.0,892.8L282.5,921.5L297.5,949.0L275.0,944.0L260.0,926.5Z" fill="#0a1cd2" filter="url(#b1)"/>
<path d="M240.0,1021.5L262.5,1005.2L270.0,1014.0L265.0,1024.0L272.5,1036.5L267.5,1041.5L270.0,1046.5L247.5,1056.5L237.5,1041.5Z" fill="#0a1cd2" filter="url(#b1)"/>
<path d="M160.0,894.0L180.0,892.8L182.5,911.5L165.0,912.8Z" fill="#828282" filter="url(#b1)"/>
<path d="M180.0,912.8L200.0,911.5L200.0,926.5L182.5,927.0Z" fill="#828282" filter="url(#b1)"/>
<path d="M210.0,891.5L225.0,894.0L222.5,906.5L207.5,905.2Z" fill="#828282" filter="url(#b1)"/>
<path d="M147.5,961.5L160.0,959.0L162.5,979.0L150.0,981.5Z" fill="#828282" filter="url(#b1)"/>
<path d="M140.0,924.0L155.0,921.5L160.0,944.0L152.5,966.5L142.5,966.5L147.5,944.0Z" fill="#828282" filter="url(#b1)"/>
<path d="M125.0,911.5L140.0,906.5L145.0,921.5L130.0,926.5Z" fill="#828282" filter="url(#b1)"/>
<path d="M120.0,996.5L140.0,994.0L142.5,1004.0L122.5,1006.5Z" fill="#828282" filter="url(#b1)"/>
<path d="M175.0,996.5L195.0,1001.5L190.0,1014.0L172.5,1011.5Z" fill="#828282" filter="url(#b1)"/>
<path d="M232.5,916.5L250.0,919.0L247.5,934.0L235.0,931.5Z" fill="#828282" filter="url(#b1)"/>
<path d="M120.0,1002.8L150.0,996.5L190.0,986.5" fill="none" stroke="#22222a" stroke-width="3.0" stroke-linecap="round" stroke-linejoin="round" filter="url(#b2)" opacity="0.9"/>
<path d="M100.0,924.0L122.5,924.0L132.5,936.5L120.0,956.5L115.0,981.5L105.0,1001.5L87.5,1011.5L82.5,1031.5L62.5,1046.5L30.0,1044.0L10.0,1024.0L11.2,991.5L27.5,979.0L40.0,1001.5L62.5,1001.5L82.5,996.5L87.5,961.5L92.5,939.0Z" fill="#e6240a" filter="url(#b1)"/>
<path d="M50.0,966.5L65.0,956.5L72.5,971.5L62.5,981.5L52.5,976.5Z" fill="#828282" filter="url(#b1)"/>
<path d="M230.0,944.0L250.0,936.5L270.0,946.5L277.5,971.5L272.5,996.5L260.0,1006.5L240.0,1011.5L225.0,1001.5L222.5,981.5L230.0,966.5Z" fill="#ee300a" filter="url(#b1)"/>
<path d="M215.0,1016.5L225.0,1001.5L240.0,1011.5L260.0,1006.5L240.0,1021.5L220.0,1029.0Z" fill="#ee300a" filter="url(#b1)"/>
<path d="M135.0,1084.0L136.2,1071.5L145.0,1066.5L150.0,1059.0L162.5,1051.5L170.0,1044.0L190.0,1036.5L200.0,1031.5L220.0,1029.0L240.0,1021.5L237.5,1041.5L225.0,1051.5L200.0,1064.0L175.0,1076.5L155.0,1086.5L140.0,1089.0Z" fill="#e8280a" filter="url(#b1)"/>
<path d="M275.0,1011.5L290.0,1009.0L300.0,1021.5L287.5,1034.0L275.0,1029.0Z" fill="#d4140a" filter="url(#b1)"/>
<path d="M147.5,904.0L160.0,901.5L165.0,911.5L152.5,916.5Z" fill="#d4140a" filter="url(#b1)"/>
<path d="M235.0,899.0L247.5,901.5L250.0,911.5L237.5,909.0Z" fill="#d4140a" filter="url(#b1)"/>
<path d="M185.0,911.5L195.0,909.0L197.5,919.0L187.5,921.5Z" fill="#d4140a" filter="url(#b1)"/>
<path d="M160.0,1001.5L175.0,997.8L176.2,1004.0L162.5,1006.5Z" fill="#d4140a" filter="url(#b1)"/>
<path d="M195.0,989.0L205.0,987.8L203.8,996.5L196.2,997.8Z" fill="#d4140a" filter="url(#b1)"/>
<rect x="0" y="861.5" width="374" height="240" filter="url(#nz)" opacity="0.42"/>
<ellipse cx="200.0" cy="960.2" rx="17.5" ry="12.5" fill="#0a5cf0" filter="url(#b4)" opacity="0.9"/>
<ellipse cx="202.5" cy="959.0" rx="8.75" ry="6.25" fill="#0a8cf4" filter="url(#b4)" opacity="0.8"/>
<ellipse cx="110.0" cy="1015.2" rx="12.5" ry="6.25" fill="#0a6cf0" filter="url(#b4)" opacity="0.8"/>
<ellipse cx="130.0" cy="971.5" rx="8.75" ry="11.25" fill="#0a3cf0" filter="url(#b4)" opacity="0.7"/>
<ellipse cx="110.0" cy="936.5" rx="15.0" ry="10.5" fill="#f4900a" filter="url(#b4)" opacity="1"/>
<ellipse cx="110.0" cy="936.5" rx="7.5" ry="5.5" fill="#f8e00a" filter="url(#b4)" opacity="1"/>
<ellipse cx="100.0" cy="971.5" rx="8.75" ry="20.0" fill="#f0580a" transform="rotate(15 100.0 971.5)" filter="url(#b4)" opacity="0.85"/>
<ellipse cx="52.5" cy="1021.5" rx="27.5" ry="16.25" fill="#f4900a" filter="url(#b4)" opacity="1"/>
<ellipse cx="50.0" cy="1024.0" rx="12.5" ry="8.0" fill="#f8e80a" filter="url(#b4)" opacity="1"/>
<ellipse cx="22.5" cy="1006.5" rx="10.0" ry="17.5" fill="#f0600a" filter="url(#b4)" opacity="0.9"/>
<ellipse cx="77.5" cy="1009.0" rx="11.25" ry="7.5" fill="#f4800a" filter="url(#b4)" opacity="0.8"/>
<ellipse cx="250.0" cy="974.0" rx="20.0" ry="30.0" fill="#f4900a" transform="rotate(10 250.0 974.0)" filter="url(#b4)" opacity="1"/>
<ellipse cx="247.5" cy="984.0" rx="13.75" ry="18.75" fill="#f8ec0a" filter="url(#b4)" opacity="1"/>
<ellipse cx="246.2" cy="986.5" rx="7.5" ry="11.25" fill="#faf20a" filter="url(#b2)" opacity="1"/>
<ellipse cx="190.0" cy="1046.5" rx="37.5" ry="8.75" fill="#f4900a" transform="rotate(-22 190.0 1046.5)" filter="url(#b4)" opacity="1"/>
<ellipse cx="200.0" cy="1040.2" rx="17.5" ry="5.5" fill="#f8e40a" transform="rotate(-18 200.0 1040.2)" filter="url(#b4)" opacity="0.95"/>
<ellipse cx="160.0" cy="1065.2" rx="13.75" ry="5.5" fill="#f6c00a" transform="rotate(-25 160.0 1065.2)" filter="url(#b4)" opacity="0.85"/><use href="#shade" transform="translate(-6,810.5)"/></g>
<g clip-path="url(#bcc2)"><rect x="344.5" y="860" width="374" height="240" fill="#777777"/>
<path d="M499.5,935.0L494.5,965.0L504.5,980.0" fill="none" stroke="#5a5a5a" stroke-width="5.0" stroke-linecap="round" stroke-linejoin="round" filter="url(#b2)" opacity="0.8"/>
<path d="M519.5,897.5L534.5,922.5L529.5,942.5" fill="none" stroke="#969696" stroke-width="4.0" stroke-linecap="round" stroke-linejoin="round" filter="url(#b2)" opacity="0.8"/>
<path d="M352.0,1010.0L355.8,977.5L373.2,948.8L400.8,926.2L440.8,903.8L482.0,886.2L494.5,935.0L487.0,965.0L494.5,995.0L504.5,1032.5L484.5,1060.0L469.5,1063.8L449.5,1060.0L407.0,1057.5L372.0,1047.5L355.8,1030.0Z" fill="#0a1cd2" filter="url(#b1)"/>
<path d="M462.0,910.0L482.0,886.2L519.5,877.5L562.0,876.2L599.5,891.2L614.5,912.5L594.5,935.0L569.5,922.5L549.5,930.0L534.5,922.5L519.5,932.5L499.5,925.0L484.5,935.0L464.5,930.0Z" fill="#0a1cd2" filter="url(#b1)"/>
<path d="M507.0,960.0L519.5,942.5L544.5,935.0L569.5,942.5L574.5,965.0L564.5,985.0L534.5,985.0L514.5,977.5Z" fill="#0a1cd2" filter="url(#b1)"/>
<path d="M617.0,942.5L637.0,950.0L659.5,977.5L672.0,1005.0L669.5,1025.0L644.5,1032.5L647.0,1010.0L632.0,1000.0L624.5,980.0L622.0,960.0Z" fill="#0a1cd2" filter="url(#b1)"/>
<path d="M484.5,1000.0L519.5,990.0L557.0,987.5L569.5,1000.0L559.5,1015.0L534.5,1025.0L504.5,1032.5L494.5,1020.0Z" fill="#0a1cd2" filter="url(#b1)"/>
<path d="M599.5,891.2L627.0,920.0L642.0,947.5L619.5,942.5L604.5,925.0Z" fill="#0a1cd2" filter="url(#b1)"/>
<path d="M599.5,1025.0L612.0,1022.5L614.5,1035.0L602.0,1035.0Z" fill="#0a1cd2" filter="url(#b1)"/>
<path d="M504.5,892.5L524.5,891.2L527.0,910.0L509.5,911.2Z" fill="#828282" filter="url(#b1)"/>
<path d="M524.5,911.2L544.5,910.0L544.5,925.0L527.0,925.5Z" fill="#828282" filter="url(#b1)"/>
<path d="M554.5,890.0L569.5,892.5L567.0,905.0L552.0,903.8Z" fill="#828282" filter="url(#b1)"/>
<path d="M492.0,960.0L504.5,957.5L507.0,977.5L494.5,980.0Z" fill="#828282" filter="url(#b1)"/>
<path d="M484.5,922.5L499.5,920.0L504.5,942.5L497.0,965.0L487.0,965.0L492.0,942.5Z" fill="#828282" filter="url(#b1)"/>
<path d="M469.5,910.0L484.5,905.0L489.5,920.0L474.5,925.0Z" fill="#828282" filter="url(#b1)"/>
<path d="M464.5,995.0L484.5,992.5L487.0,1002.5L467.0,1005.0Z" fill="#828282" filter="url(#b1)"/>
<path d="M519.5,995.0L539.5,1000.0L534.5,1012.5L517.0,1010.0Z" fill="#828282" filter="url(#b1)"/>
<path d="M577.0,915.0L594.5,917.5L592.0,932.5L579.5,930.0Z" fill="#828282" filter="url(#b1)"/>
<path d="M464.5,1001.2L494.5,995.0L534.5,985.0" fill="none" stroke="#22222a" stroke-width="3.0" stroke-linecap="round" stroke-linejoin="round" filter="url(#b2)" opacity="0.9"/>
<path d="M354.5,1012.5L359.5,977.5L377.0,950.0L404.5,930.0L444.5,910.0L474.5,920.0L479.5,935.0L462.0,952.5L457.0,977.5L449.5,995.0L434.5,1005.0L427.0,1020.0L419.5,1037.5L394.5,1047.5L369.5,1040.0Z" fill="#de200a" filter="url(#b1)"/>
<path d="M392.0,977.5L407.0,957.5L424.5,960.0L429.5,977.5L417.0,992.5L399.5,990.0Z" fill="#0a1cd2" filter="url(#b1)"/>
<path d="M387.0,970.0L402.0,955.0L407.0,960.0L392.0,977.5Z" fill="#828282" filter="url(#b1)"/>
<path d="M419.5,992.5L432.0,977.5L439.5,990.0L427.0,1000.0Z" fill="#828282" filter="url(#b1)"/>
<path d="M574.5,942.5L594.5,935.0L614.5,945.0L622.0,970.0L617.0,995.0L604.5,1005.0L584.5,1010.0L569.5,1000.0L567.0,980.0L574.5,965.0Z" fill="#ee300a" filter="url(#b1)"/>
<path d="M559.5,1015.0L569.5,1000.0L584.5,1010.0L604.5,1005.0L584.5,1020.0L564.5,1027.5Z" fill="#ee300a" filter="url(#b1)"/>
<path d="M479.5,1082.5L480.8,1070.0L489.5,1065.0L494.5,1057.5L507.0,1050.0L514.5,1042.5L534.5,1035.0L544.5,1030.0L564.5,1027.5L584.5,1020.0L582.0,1040.0L569.5,1050.0L544.5,1062.5L519.5,1075.0L499.5,1085.0L484.5,1087.5Z" fill="#e8280a" filter="url(#b1)"/>
<path d="M619.5,1010.0L634.5,1007.5L644.5,1020.0L632.0,1032.5L619.5,1027.5Z" fill="#d4140a" filter="url(#b1)"/>
<path d="M492.0,902.5L504.5,900.0L509.5,910.0L497.0,915.0Z" fill="#d4140a" filter="url(#b1)"/>
<path d="M579.5,897.5L592.0,900.0L594.5,910.0L582.0,907.5Z" fill="#d4140a" filter="url(#b1)"/>
<path d="M529.5,910.0L539.5,907.5L542.0,917.5L532.0,920.0Z" fill="#d4140a" filter="url(#b1)"/>
<path d="M504.5,1000.0L519.5,996.2L520.8,1002.5L507.0,1005.0Z" fill="#d4140a" filter="url(#b1)"/>
<path d="M539.5,987.5L549.5,986.2L548.2,995.0L540.8,996.2Z" fill="#d4140a" filter="url(#b1)"/>
<rect x="344.5" y="860" width="374" height="240" filter="url(#nz)" opacity="0.42"/>
<ellipse cx="544.5" cy="958.8" rx="17.5" ry="12.5" fill="#0a5cf0" filter="url(#b4)" opacity="0.9"/>
<ellipse cx="547.0" cy="957.5" rx="8.75" ry="6.25" fill="#0a8cf4" filter="url(#b4)" opacity="0.8"/>
<ellipse cx="454.5" cy="1013.8" rx="12.5" ry="6.25" fill="#0a6cf0" filter="url(#b4)" opacity="0.8"/>
<ellipse cx="474.5" cy="970.0" rx="8.75" ry="11.25" fill="#0a3cf0" filter="url(#b4)" opacity="0.7"/>
<ellipse cx="459.5" cy="932.5" rx="16.25" ry="10.0" fill="#f4800a" filter="url(#b4)" opacity="0.95"/>
<ellipse cx="459.5" cy="932.5" rx="6.25" ry="3.75" fill="#f8c00a" filter="url(#b4)" opacity="0.7"/>
<ellipse cx="407.0" cy="1017.5" rx="25.0" ry="15.0" fill="#f4800a" filter="url(#b4)" opacity="0.95"/>
<ellipse cx="402.0" cy="1020.0" rx="10.0" ry="6.25" fill="#f8c80a" filter="url(#b4)" opacity="0.7"/>
<ellipse cx="372.0" cy="1010.0" rx="10.0" ry="17.5" fill="#f0600a" filter="url(#b4)" opacity="0.8"/>
<ellipse cx="444.5" cy="970.0" rx="7.5" ry="17.5" fill="#f0500a" transform="rotate(15 444.5 970.0)" filter="url(#b4)" opacity="0.6"/>
<ellipse cx="594.5" cy="972.5" rx="20.0" ry="30.0" fill="#f4900a" transform="rotate(10 594.5 972.5)" filter="url(#b4)" opacity="1"/>
<ellipse cx="594.5" cy="977.5" rx="10.0" ry="17.5" fill="#f8b00a" filter="url(#b4)" opacity="0.8"/>
<ellipse cx="534.5" cy="1045.0" rx="37.5" ry="8.75" fill="#f4900a" transform="rotate(-22 534.5 1045.0)" filter="url(#b4)" opacity="1"/>
<ellipse cx="544.5" cy="1038.8" rx="17.5" ry="5.5" fill="#f8e40a" transform="rotate(-18 544.5 1038.8)" filter="url(#b4)" opacity="0.95"/>
<ellipse cx="504.5" cy="1063.8" rx="13.75" ry="5.5" fill="#f6c00a" transform="rotate(-25 504.5 1063.8)" filter="url(#b4)" opacity="0.85"/>
<path d="M564.5,1027.5L584.5,1020.0L597.0,1012.5L604.5,1007.5L594.5,1025.0L579.5,1035.0Z" fill="#f4700a" filter="url(#b2)"/>
<ellipse cx="577.0" cy="1022.5" rx="11.25" ry="5.5" fill="#f8e40a" transform="rotate(-25 577.0 1022.5)" filter="url(#b4)" opacity="0.95"/>
<path d="M559.5,1050.0L584.5,1035.0L614.5,1030.0L619.5,1040.0L594.5,1052.5L564.5,1060.0Z" fill="#6e6e6e" filter="url(#b2)"/><use href="#shade" transform="translate(338.5,809)"/></g>
<g clip-path="url(#bcc3)"><rect x="730" y="860" width="374" height="240" fill="#777777"/>
<path d="M845.0,1000.0L880.0,992.5L920.0,985.0" fill="none" stroke="#2a2a30" stroke-width="3.0" stroke-linecap="round" stroke-linejoin="round" filter="url(#b2)" opacity="0.9"/>
<path d="M741.2,1000.0L747.5,970.0L762.5,950.0L781.2,930.0L802.5,916.2L828.8,903.8L850.0,917.5L855.0,942.5L842.5,967.5L847.5,990.0L820.0,1005.0L807.5,1020.0L812.5,1035.0L835.0,1045.0L860.0,1057.5L865.0,1080.0L850.0,1070.0L830.0,1060.0L792.5,1052.5L762.5,1040.0L745.0,1022.5Z" fill="#0a1cd2" filter="url(#b1)"/>
<path d="M962.5,940.0L980.0,932.5L1000.0,940.0L1008.8,960.0L1005.0,985.0L992.5,997.5L975.0,1002.5L960.0,992.5L955.0,972.5L957.5,955.0Z" fill="#0a1cd2" filter="url(#b1)"/>
<path d="M865.0,1087.5L866.2,1067.5L875.0,1063.8L880.0,1055.0L892.5,1047.5L905.0,1040.0L920.0,1032.5L930.0,1025.0L955.0,1022.5L970.0,1015.0L977.5,1022.5L970.0,1035.0L962.5,1050.0L930.0,1065.0L905.0,1077.5L885.0,1087.5L872.5,1088.8Z" fill="#0a1cd2" filter="url(#b1)"/>
<path d="M970.0,886.2L990.0,895.0L1011.2,913.8L1030.0,937.5L1010.0,937.5L992.5,925.0L975.0,910.0Z" fill="#0a1cd2" filter="url(#b1)"/>
<path d="M1037.5,1000.0L1058.8,1007.5L1056.2,1027.5L1035.0,1035.0L1030.0,1020.0Z" fill="#0a1cd2" filter="url(#b1)"/>
<path d="M935.0,910.0L955.0,922.5L945.0,927.5L930.0,920.0Z" fill="#0a1cd2" filter="url(#b1)"/>
<path d="M852.5,942.5L865.0,922.5L890.0,907.5L920.0,912.5L930.0,930.0L955.0,932.5L962.5,942.5L955.0,972.5L945.0,990.0L920.0,1000.0L890.0,995.0L870.0,1000.0L847.5,990.0L842.5,967.5Z" fill="#de1c0a" filter="url(#b1)"/>
<path d="M805.0,1020.0L820.0,1005.0L850.0,997.5L890.0,1000.0L920.0,1002.5L955.0,1005.0L950.0,1020.0L920.0,1032.5L892.5,1047.5L870.0,1052.5L835.0,1045.0L812.5,1035.0Z" fill="#de1c0a" filter="url(#b1)"/>
<path d="M922.5,878.8L952.5,877.5L973.8,891.2L975.0,915.0L955.0,922.5L935.0,910.0L920.0,900.0Z" fill="#de1c0a" filter="url(#b1)"/>
<path d="M1007.5,960.0L1023.8,950.0L1043.8,973.8L1057.5,1002.5L1037.5,1000.0L1030.0,1020.0L1035.0,1035.0L1010.0,1043.8L1005.0,1022.5L1015.0,1000.0L1005.0,985.0Z" fill="#de1c0a" filter="url(#b1)"/>
<path d="M770.0,965.0L792.5,942.5L805.0,942.5L797.5,960.0L780.0,977.5Z" fill="#de1c0a" filter="url(#b1)"/>
<path d="M797.5,965.0L812.5,960.0L815.0,985.0L802.5,990.0Z" fill="#de1c0a" filter="url(#b1)"/>
<path d="M862.5,892.5L885.0,887.5L880.0,905.0L865.0,910.0Z" fill="#de1c0a" filter="url(#b1)"/>
<path d="M980.0,1005.0L995.0,997.5L1005.0,1010.0L1000.0,1020.0L1005.0,1027.5L1000.0,1037.5L980.0,1045.0L970.0,1035.0L977.5,1022.5Z" fill="#de1c0a" filter="url(#b1)"/>
<path d="M870.0,885.0L900.0,882.5L920.0,890.0L905.0,910.0L885.0,905.0Z" fill="#7e7e7e" filter="url(#b1)"/>
<path d="M875.0,942.5L900.0,942.5L895.0,965.0L877.5,960.0Z" fill="#7e7e7e" filter="url(#b1)"/>
<path d="M865.0,970.0L885.0,970.0L880.0,982.5L865.0,982.5Z" fill="#7e7e7e" filter="url(#b1)"/>
<path d="M920.0,1000.0L960.0,1000.0L955.0,1015.0L925.0,1012.5Z" fill="#7e7e7e" filter="url(#b1)"/>
<path d="M1005.0,1000.0L1030.0,1000.0L1027.5,1020.0L1007.5,1020.0Z" fill="#7e7e7e" filter="url(#b1)"/>
<path d="M792.5,965.0L802.5,960.0L805.0,995.0L795.0,992.5Z" fill="#7e7e7e" filter="url(#b1)"/>
<path d="M850.0,910.0L865.0,905.0L860.0,925.0L847.5,930.0Z" fill="#7e7e7e" filter="url(#b1)"/>
<path d="M812.5,965.0L835.0,960.0L840.0,985.0L817.5,987.5Z" fill="#7e7e7e" filter="url(#b1)"/>
<rect x="730" y="860" width="374" height="240" filter="url(#nz)" opacity="0.42"/>
<ellipse cx="832.5" cy="932.5" rx="22.5" ry="18.75" fill="#0a1cd2" filter="url(#b2)" opacity="1"/>
<ellipse cx="832.5" cy="931.2" rx="12.5" ry="10.0" fill="#0a50ee" filter="url(#b4)" opacity="0.8"/>
<ellipse cx="982.5" cy="965.0" rx="15.0" ry="20.0" fill="#0a50ee" filter="url(#b4)" opacity="0.8"/>
<ellipse cx="762.5" cy="1010.0" rx="10.0" ry="12.5" fill="#0a40ee" filter="url(#b4)" opacity="0.6"/>
<ellipse cx="930.0" cy="955.0" rx="27.5" ry="21.25" fill="#f4800a" filter="url(#b4)" opacity="0.95"/>
<ellipse cx="930.0" cy="947.5" rx="12.5" ry="10.0" fill="#f8dc0a" filter="url(#b4)" opacity="1"/>
<ellipse cx="865.0" cy="1020.0" rx="17.5" ry="10.0" fill="#f4800a" filter="url(#b4)" opacity="0.85"/>
<ellipse cx="962.5" cy="916.2" rx="11.25" ry="7.5" fill="#f4800a" filter="url(#b4)" opacity="0.85"/>
<ellipse cx="1017.5" cy="980.0" rx="8.75" ry="11.25" fill="#f4900a" filter="url(#b4)" opacity="0.9"/>
<ellipse cx="1017.5" cy="1022.5" rx="8.75" ry="8.75" fill="#f4800a" filter="url(#b4)" opacity="0.8"/>
<ellipse cx="995.0" cy="1032.5" rx="8.75" ry="8.75" fill="#f8d00a" filter="url(#b4)" opacity="1"/>
<ellipse cx="992.5" cy="1006.2" rx="6.25" ry="5.0" fill="#f8b00a" filter="url(#b2)" opacity="1"/><use href="#shade" transform="translate(727.5,806.2)"/></g>
<g clip-path="url(#bcc4)"><rect x="1070" y="860" width="374" height="240" fill="#777777"/>
<path d="M1180.0,995.0L1220.0,990.0L1260.0,980.0" fill="none" stroke="#2a2a30" stroke-width="3.5" stroke-linecap="round" stroke-linejoin="round" filter="url(#b2)" opacity="0.9"/>
<path d="M1230.0,897.5L1225.0,935.0L1210.0,965.0" fill="none" stroke="#5c5c5c" stroke-width="7.5" stroke-linecap="round" stroke-linejoin="round" filter="url(#b4)" opacity="0.8"/>
<path d="M1081.2,1000.0L1088.8,970.0L1105.0,946.2L1123.8,930.0L1132.5,952.5L1120.0,972.5L1115.0,1000.0L1120.0,1020.0L1132.5,1035.0L1112.5,1037.5L1088.8,1022.5Z" fill="#0a14c4" filter="url(#b1)"/>
<path d="M1145.0,935.0L1157.5,920.0L1180.0,917.5L1192.5,930.0L1187.5,945.0L1170.0,952.5L1152.5,950.0Z" fill="#0a14c4" filter="url(#b1)"/>
<path d="M1242.5,930.0L1255.0,910.0L1270.0,905.0L1277.5,917.5L1265.0,925.0L1260.0,940.0L1245.0,937.5Z" fill="#0a14c4" filter="url(#b1)"/>
<path d="M1300.0,942.5L1320.0,935.0L1340.0,940.0L1350.0,960.0L1347.5,985.0L1335.0,1000.0L1315.0,1005.0L1300.0,995.0L1295.0,972.5Z" fill="#0a14c4" filter="url(#b1)"/>
<path d="M1208.8,1085.0L1210.0,1070.0L1220.0,1062.5L1232.5,1050.0L1250.0,1042.5L1265.0,1032.5L1282.5,1027.5L1305.0,1022.5L1300.0,1037.5L1280.0,1052.5L1260.0,1065.0L1235.0,1077.5L1217.5,1086.2Z" fill="#0a14c4" filter="url(#b1)"/>
<path d="M1307.5,892.5L1320.0,897.5L1332.5,910.0L1320.0,910.0L1310.0,902.5Z" fill="#0a14c4" filter="url(#b1)"/>
<path d="M1117.5,1012.5L1137.5,1010.0L1140.0,1035.0L1120.0,1032.5Z" fill="#0a14c4" filter="url(#b1)"/>
<path d="M1357.5,935.0L1370.0,947.5L1382.5,972.5L1370.0,970.0L1360.0,955.0Z" fill="#0a14c4" filter="url(#b1)"/>
<path d="M1127.5,970.0L1145.0,965.0L1140.0,980.0Z" fill="#0a14c4" filter="url(#b1)"/>
<path d="M1107.5,942.5L1127.5,922.5L1150.0,917.5L1152.5,935.0L1132.5,945.0L1120.0,960.0Z" fill="#0a14c4" filter="url(#b1)"/>
<path d="M1190.0,940.0L1210.0,937.5L1210.0,965.0L1205.0,1000.0L1187.5,1000.0L1182.5,970.0Z" fill="#cc1210" filter="url(#b1)"/>
<path d="M1135.0,965.0L1152.5,960.0L1165.0,970.0L1162.5,995.0L1145.0,1000.0L1137.5,985.0Z" fill="#cc1210" filter="url(#b1)"/>
<path d="M1242.5,950.0L1260.0,937.5L1285.0,935.0L1297.5,947.5L1292.5,970.0L1280.0,982.5L1255.0,980.0L1240.0,967.5Z" fill="#cc1210" filter="url(#b1)"/>
<path d="M1152.5,1020.0L1170.0,1005.0L1200.0,1000.0L1230.0,1002.5L1230.0,1022.5L1220.0,1040.0L1230.0,1052.5L1210.0,1060.0L1190.0,1055.0L1175.0,1035.0Z" fill="#cc1210" filter="url(#b1)"/>
<path d="M1230.0,1000.0L1255.0,995.0L1282.5,1000.0L1277.5,1020.0L1255.0,1032.5L1235.0,1035.0Z" fill="#cc1210" filter="url(#b1)"/>
<path d="M1350.0,970.0L1365.0,967.5L1377.5,990.0L1377.5,1020.0L1365.0,1045.0L1347.5,1040.0L1352.5,1015.0L1347.5,990.0Z" fill="#cc1210" filter="url(#b1)"/>
<path d="M1257.5,890.0L1282.5,882.5L1305.0,892.5L1307.5,910.0L1287.5,910.0L1270.0,900.0Z" fill="#cc1210" filter="url(#b1)"/>
<path d="M1177.5,900.0L1200.0,890.0L1220.0,892.5L1215.0,910.0L1195.0,922.5L1180.0,915.0Z" fill="#cc1210" filter="url(#b1)"/>
<path d="M1290.0,1035.0L1305.0,1015.0L1320.0,1002.5L1335.0,997.5L1347.5,1010.0L1342.5,1020.0L1348.8,1027.5L1345.0,1037.5L1320.0,1050.0L1295.0,1057.5Z" fill="#cc1210" filter="url(#b1)"/>
<path d="M1220.0,1080.0L1245.0,1067.5L1270.0,1057.5L1295.0,1057.5L1320.0,1050.0L1295.0,1065.0L1257.5,1077.5L1230.0,1085.0Z" fill="#cc1210" filter="url(#b1)"/>
<path d="M1110.0,960.0L1132.5,952.5L1130.0,975.0L1115.0,977.5Z" fill="#cc1210" filter="url(#b1)"/>
<path d="M1295.0,917.5L1320.0,915.0L1335.0,930.0L1310.0,932.5Z" fill="#cc1210" filter="url(#b1)"/>
<path d="M1220.0,910.0L1240.0,907.5L1242.5,925.0L1222.5,927.5Z" fill="#cc1210" filter="url(#b1)"/>
<path d="M1320.0,892.5L1345.0,910.0L1357.5,932.5L1340.0,925.0L1325.0,910.0Z" fill="#cc1210" filter="url(#b1)"/>
<path d="M1165.0,1035.0L1182.5,1050.0L1177.5,1060.0L1160.0,1050.0Z" fill="#cc1210" filter="url(#b1)"/>
<rect x="1070" y="860" width="374" height="240" filter="url(#nz)" opacity="0.42"/>
<ellipse cx="1270.0" cy="952.5" rx="15.0" ry="11.25" fill="#f41810" filter="url(#b4)" opacity="0.9"/>
<ellipse cx="1205.0" cy="1017.5" rx="17.5" ry="11.25" fill="#f01810" filter="url(#b4)" opacity="0.8"/>
<ellipse cx="1320.0" cy="1032.5" rx="22.5" ry="16.25" fill="#f4700a" filter="url(#b4)" opacity="1"/>
<ellipse cx="1322.5" cy="1030.0" rx="12.5" ry="10.0" fill="#f8e00a" filter="url(#b4)" opacity="1"/><use href="#shade" transform="translate(1068.5,806.5)"/></g>

<g transform="translate(3,811.5)"><path d="M129.8,276.5L130.3,268.7L131.5,262.7L138.8,259.0L142.4,253.0L156.8,245.8L161.6,238.6L183.3,227.8L186.2,223.0L194.1,218.1L207.3,219.3L225.4,216.3L235.0,209.7L241.0,208.5L254.2,192.9L261.5,191.4L268.7,201.9L264.5,208.5L271.7,221.1L265.7,226.6L267.5,232.6L242.2,247.0L242.2,249.5" fill="none" stroke="#fff" stroke-width="2" stroke-linejoin="round"/></g>
<g transform="translate(347.5,809)"><path d="M129.8,276.5L130.3,268.7L131.5,262.7L138.8,259.0L142.4,253.0L156.8,245.8L161.6,238.6L183.3,227.8L186.2,223.0L194.1,218.1L207.3,219.3L225.4,216.3L235.0,209.7L241.0,208.5L254.2,192.9L261.5,191.4L268.7,201.9L264.5,208.5L271.7,221.1L265.7,226.6L267.5,232.6L242.2,247.0L242.2,249.5" fill="none" stroke="#fff" stroke-width="2" stroke-linejoin="round"/></g>
<g transform="translate(735,806)"><path d="M129.8,276.5L130.3,268.7L131.5,262.7L138.8,259.0L142.4,253.0L156.8,245.8L161.6,238.6L183.3,227.8L186.2,223.0L194.1,218.1L207.3,219.3L225.4,216.3L235.0,209.7L241.0,208.5L254.2,192.9L261.5,191.4L268.7,201.9L264.5,208.5L271.7,221.1L265.7,226.6L267.5,232.6L242.2,247.0L242.2,249.5" fill="none" stroke="#fff" stroke-width="2" stroke-linejoin="round"/></g>
<g transform="translate(1077.5,807.5)"><path d="M129.8,276.5L130.3,268.7L131.5,262.7L138.8,259.0L142.4,253.0L156.8,245.8L161.6,238.6L183.3,227.8L186.2,223.0L194.1,218.1L207.3,219.3L225.4,216.3L235.0,209.7L241.0,208.5L254.2,192.9L261.5,191.4L268.7,201.9L264.5,208.5L271.7,221.1L265.7,226.6L267.5,232.6L242.2,247.0L242.2,249.5" fill="none" stroke="#fff" stroke-width="2" stroke-linejoin="round"/></g>
<circle cx="561.25" cy="1031.25" r="10.5" fill="#fff" stroke="#b80c0c" stroke-width="4.4"/>
<circle cx="988.75" cy="1020" r="11" fill="#fff" stroke="#0a2ab0" stroke-width="4.2"/>
<circle cx="1332.5" cy="1020.75" r="11" fill="#fff" stroke="#0a2ab0" stroke-width="4.2"/>
<circle cx="224.4" cy="1035" r="11" fill="#fff" stroke="#b80c0c" stroke-width="4.4"/>
<text x="682" y="1077" font-size="26" font-style="italic">z(r)</text>
<rect x="612.3" y="1090" width="90.7" height="20" fill="url(#cbL)"/>
<rect x="703" y="1090" width="90.3" height="20" fill="url(#cbR)"/>
<text x="597" y="1142.2" font-size="25.5">−1</text>
<text x="647" y="1142.2" font-size="25.5">−0.1</text>
<text x="714" y="1142.2" font-size="25.5">0.1</text>
<text x="783.5" y="1142.2" font-size="25.5">1</text>

</svg></body></html>
